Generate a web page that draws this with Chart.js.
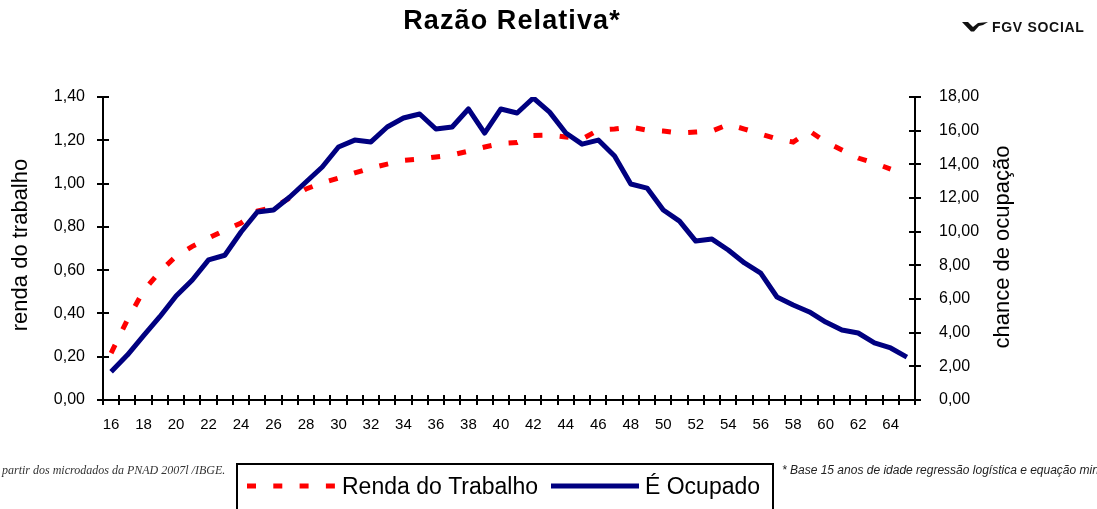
<!DOCTYPE html>
<html>
<head>
<meta charset="utf-8">
<script src="https://cdn.jsdelivr.net/npm/chart.js@4"></script>
<style>
  body { margin: 0; }
  #wrap { position: relative; width: 1097px; height: 509px; overflow: hidden; background: #fff; font-family: "Liberation Sans", Arial, sans-serif; }
  #chart { position: absolute; left: 0; top: 0; }
  #title { position: absolute; left: 0; width: 1024px; top: 5px; text-align: center; font-weight: bold; font-size: 27px; letter-spacing: 1.1px; color: #000; }
  #logo { position: absolute; left: 962px; top: 19px; display: flex; align-items: center; }
  #logo span { font-weight: bold; font-size: 14px; letter-spacing: 0.7px; margin-left: 3px; color: #111; }
  #srcnote { position: absolute; left: 2px; top: 463px; font-family: "Liberation Serif", serif; font-style: italic; font-size: 12px; color: #333; white-space: nowrap; }
  #basenote { position: absolute; left: 782px; top: 463px; font-style: italic; font-size: 12px; color: #222; white-space: nowrap; }
</style>
</head>
<body>
<div id="wrap">
  <canvas id="chart" width="1097" height="509"></canvas>
  <div id="title">Razão Relativa*</div>
  <div id="logo">
    <svg width="27" height="10" viewBox="0 0 27 10"><path d="M0,0 L6,0 L11,5 L16,1 L26,0 L21,3 L17,4 L12,9.5 L9,9.5 Z" fill="#111"/></svg>
    <span>FGV SOCIAL</span>
  </div>
  <div id="srcnote">partir dos microdados da PNAD 2007l /IBGE.</div>
  <div id="basenote">* Base 15 anos de idade regressão logística e equação minceriana</div>
</div>
<script>
// idades 16..65
const ages = [16, 17, 18, 19, 20, 21, 22, 23, 24, 25, 26, 27, 28, 29, 30, 31, 32, 33, 34, 35,
  36, 37, 38, 39, 40, 41, 42, 43, 44, 45, 46, 47, 48, 49, 50, 51, 52, 53, 54, 55,
  56, 57, 58, 59, 60, 61, 62, 63, 64, 65];

// eixo esquerdo
const rendaTrabalho = [0.217, 0.37, 0.505, 0.593, 0.665, 0.71, 0.748, 0.785, 0.818, 0.873,
  0.89, 0.933, 0.975, 1.003, 1.025, 1.049, 1.072, 1.09, 1.107, 1.113,
  1.123, 1.132, 1.15, 1.169, 1.185, 1.19, 1.222, 1.224, 1.215, 1.206,
  1.247, 1.252, 1.261, 1.247, 1.243, 1.234, 1.238, 1.243, 1.273, 1.252,
  1.229, 1.206, 1.192, 1.243, 1.192, 1.155, 1.118, 1.095, 1.067, null];

// eixo direito
const eOcupado = [1.68, 2.67, 3.82, 4.95, 6.18, 7.13, 8.32, 8.6, 9.98, 11.17,
  11.29, 12.06, 12.95, 13.84, 15.03, 15.44, 15.33, 16.22, 16.75, 16.99,
  16.1, 16.22, 17.29, 15.86, 17.29, 17.05, 17.94, 17.1, 15.86, 15.2,
  15.44, 14.49, 12.83, 12.59, 11.29, 10.63, 9.44, 9.56, 8.91, 8.14,
  7.54, 6.12, 5.64, 5.23, 4.63, 4.16, 3.98, 3.39, 3.09, 2.55];

const leftTitle = "renda do trabalho";
const rightTitle = "chance de ocupação";
const legendNames = ["Renda do Trabalho", "É Ocupado"];

const FONT = '"Liberation Sans", Arial, sans-serif';
const comma = (v) => v.toFixed(2).replace(".", ",");

// tick marks crossing the axes, like the Excel original
const crossTicks = {
  id: "crossTicks",
  afterDraw(chart) {
    const ctx = chart.ctx;
    const { x, y, y2 } = chart.scales;
    ctx.save();
    ctx.strokeStyle = "#000";
    ctx.lineWidth = 2;
    ctx.beginPath();
    for (let t of y.ticks) {
      let py = Math.round(y.getPixelForValue(t.value));
      ctx.moveTo(y.right - 6, py);
      ctx.lineTo(y.right + 6, py);
    }
    for (let t of y2.ticks) {
      let py = Math.round(y2.getPixelForValue(t.value));
      ctx.moveTo(y2.left - 6, py);
      ctx.lineTo(y2.left + 6, py);
    }
    let n = ages.length;
    let step = (x.right - x.left) / n;
    for (let i = 0; i <= n; i++) {
      let px = Math.round(x.left + i * step);
      ctx.moveTo(px, x.top - 5);
      ctx.lineTo(px, x.top + 5);
    }
    ctx.stroke();

    // axis titles (both read bottom to top)
    ctx.fillStyle = "#000";
    ctx.font = "22px " + FONT;
    ctx.textAlign = "center";
    ctx.textBaseline = "middle";
    ctx.save();
    ctx.translate(21, 245);
    ctx.rotate(-Math.PI / 2);
    ctx.fillText(leftTitle, 0, 0);
    ctx.restore();
    ctx.save();
    ctx.translate(1003, 247);
    ctx.rotate(-Math.PI / 2);
    ctx.fillText(rightTitle, 0, 0);
    ctx.restore();

    // boxed legend
    const ds = chart.data.datasets;
    ctx.lineWidth = 2;
    ctx.strokeStyle = "#000";
    ctx.strokeRect(237, 464, 536, 70);
    ctx.textAlign = "left";
    ctx.font = "23px " + FONT;
    const items = [
      { x0: 247, x1: 335, tx: 342 },
      { x0: 551, x1: 639, tx: 645 },
    ];
    items.forEach((it, i) => {
      ctx.save();
      ctx.strokeStyle = ds[i].borderColor;
      ctx.lineWidth = ds[i].borderWidth;
      ctx.setLineDash(ds[i].borderDash || []);
      ctx.beginPath();
      ctx.moveTo(it.x0, 486);
      ctx.lineTo(it.x1, 486);
      ctx.stroke();
      ctx.restore();
      ctx.fillText(legendNames[i], it.tx, 488);
    });
    ctx.restore();
  },
};

new Chart(document.getElementById("chart"), {
  type: "line",
  data: {
    labels: ages,
    datasets: [
      {
        label: legendNames[0],
        data: rendaTrabalho,
        yAxisID: "y",
        borderColor: "#ff0000",
        borderWidth: 5,
        borderDash: [9, 17.3],
        borderCapStyle: "butt",
        pointRadius: 0,
        tension: 0,
        order: 1,
      },
      {
        label: legendNames[1],
        data: eOcupado,
        yAxisID: "y2",
        borderColor: "#000080",
        borderWidth: 5,
        borderJoinStyle: "round",
        pointRadius: 0,
        tension: 0,
        order: 0,
      },
    ],
  },
  options: {
    responsive: false,
    animation: false,
    devicePixelRatio: 1,
    layout: { padding: { top: 97, left: 0, right: 0, bottom: 0 } },
    plugins: { legend: { display: false }, tooltip: { enabled: false } },
    scales: {
      x: {
        offset: true,
        grid: { display: false, offset: true },
        border: { display: true, color: "#000", width: 2 },
        ticks: {
          autoSkip: false,
          maxRotation: 0,
          padding: 8,
          color: "#000",
          font: { family: FONT, size: 15 },
          callback: (v, i) => (ages[i] % 2 === 0 && ages[i] < 65 ? String(ages[i]) : ""),
        },
        afterFit: (s) => { s.height = 109; },
      },
      y: {
        position: "left",
        min: 0,
        max: 1.4,
        grid: { display: false },
        border: { display: true, color: "#000", width: 2 },
        ticks: {
          stepSize: 0.2,
          padding: 10,
          color: "#000",
          font: { family: FONT, size: 16 },
          callback: (v) => comma(v),
        },
        afterFit: (s) => { s.width = 103; },
      },
      y2: {
        position: "right",
        min: 0,
        max: 18,
        grid: { display: false },
        border: { display: true, color: "#000", width: 2 },
        ticks: {
          stepSize: 2,
          padding: 16,
          color: "#000",
          font: { family: FONT, size: 16 },
          callback: (v) => comma(v),
        },
        afterFit: (s) => { s.width = 182; },
      },
    },
  },
  plugins: [crossTicks],
});
</script>
</body>
</html>
